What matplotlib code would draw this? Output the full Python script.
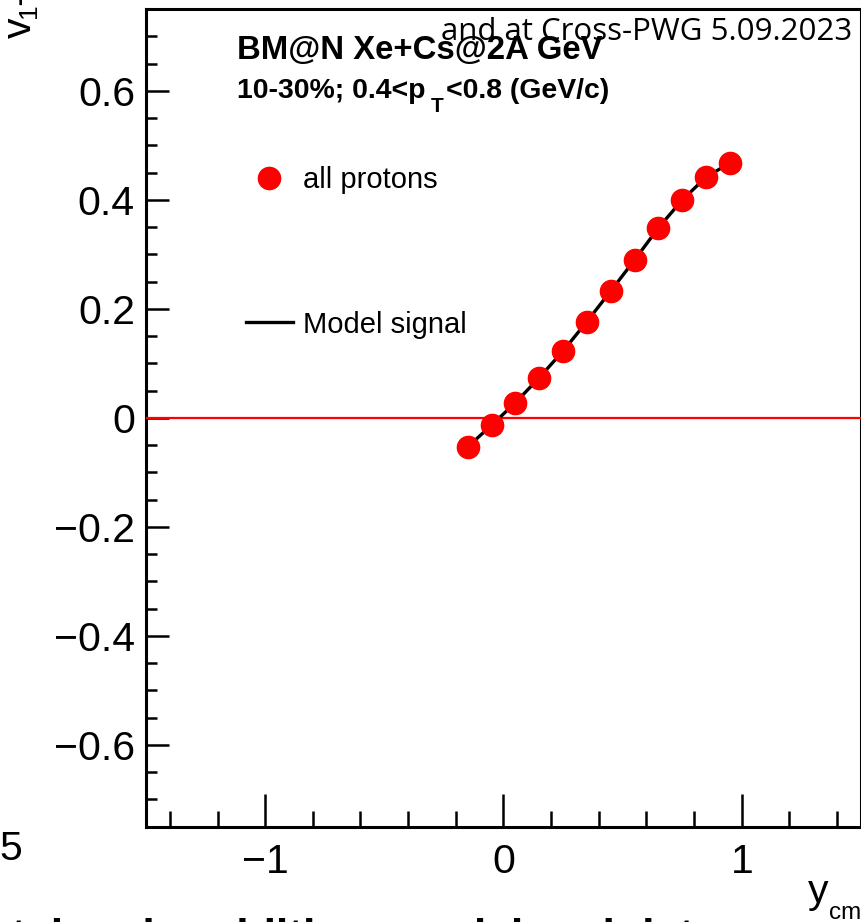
import matplotlib
matplotlib.use("Agg")
import matplotlib.pyplot as plt

plt.rcParams['font.family'] = ['Liberation Sans', 'DejaVu Sans']

# Proton directed flow vs rapidity
y_cm = [-0.15, -0.05, 0.05, 0.15, 0.25, 0.35, 0.45, 0.55, 0.65, 0.75, 0.85, 0.95]
v1_protons = [-0.053, -0.013, 0.028, 0.074, 0.123, 0.177, 0.233, 0.290, 0.349, 0.400, 0.442, 0.468]

# Model input signal
y_model = [-0.15, -0.05, 0.05, 0.15, 0.25, 0.35, 0.45, 0.55, 0.65, 0.75, 0.85, 0.95]
v1_model = [-0.053, -0.013, 0.028, 0.074, 0.123, 0.177, 0.233, 0.290, 0.349, 0.400, 0.442, 0.468]

x_ticks = [-1, 0, 1]
x_ticklabels = ["\u22121", "0", "1"]
y_ticks = [-0.6, -0.4, -0.2, 0, 0.2, 0.4, 0.6]
y_ticklabels = ["\u22120.6", "\u22120.4", "\u22120.2", "0", "0.2", "0.4", "0.6"]

W, H = 862, 922
fig = plt.figure(figsize=(W / 100, H / 100), dpi=100)


def px(x, y):
    return x / W, 1 - y / H


ax = fig.add_axes([146 / W, 1 - 826.75 / H, 715 / W, 817.5 / H])
ax.set_xlim(-1.5, 1.5)
ax.set_ylim(-0.75, 0.75)

ax.axhline(0, color="#ff0000", lw=1.6, zorder=2.6)
line_model, = ax.plot(y_model, v1_model, color="black", lw=2.4, zorder=2.7)
pts, = ax.plot(y_cm, v1_protons, "o", color="#ff0000", ms=16, mec="#ff0000", zorder=3)

ax.set_xticks(x_ticks)
ax.set_xticklabels(x_ticklabels)
ax.set_yticks(y_ticks)
ax.set_yticklabels(y_ticklabels)
ax.set_xticks([-1.4, -1.2, -0.8, -0.6, -0.4, -0.2, 0.2, 0.4, 0.6, 0.8, 1.2, 1.4], minor=True)
ax.set_yticks([v / 100 for v in range(-70, 75, 5) if v % 20 != 0], minor=True)

ax.tick_params(axis="both", which="both", direction="in", width=1.8, labelsize=29.5,
               top=False, right=False)
ax.tick_params(axis="x", which="major", length=24, pad=12)
ax.tick_params(axis="x", which="minor", length=11.5)
ax.tick_params(axis="y", which="major", length=16.5, pad=8)
ax.tick_params(axis="y", which="minor", length=8)
for s in ax.spines.values():
    s.set_linewidth(2.2)

leg = fig.legend([pts, line_model], ["all protons", "Model signal"],
                 loc="upper left", bbox_to_anchor=px(246, 166), frameon=False,
                 fontsize=21, handlelength=1.6, handletextpad=0.35,
                 labelspacing=4.0, borderpad=0, borderaxespad=0)

fig.text(*px(237, 59), "BM@N Xe+Cs@2A GeV", fontsize=23.7, fontweight="bold",
         ha="left", va="baseline")
fig.text(*px(237, 98), "10-30%; 0.4<p", fontsize=20.4, fontweight="bold",
         ha="left", va="baseline")
fig.text(*px(431, 112), "T", fontsize=15, fontweight="bold", ha="left", va="baseline")
fig.text(*px(446, 98), "<0.8 (GeV/c)", fontsize=20.4, fontweight="bold",
         ha="left", va="baseline")

fig.text(*px(852, 40), "and at Cross-PWG 5.09.2023", family=["Open Sans", "DejaVu Sans"],
         fontsize=22.5, ha="right", va="baseline")

# axis titles
fig.text(*px(808, 903), "y", fontsize=29.5, ha="left", va="baseline")
fig.text(*px(829, 919), "cm", fontsize=17.5, ha="left", va="baseline")
fig.text(*px(20, 38), "v", fontsize=29.5, rotation=90, ha="center", va="bottom")
fig.text(*px(29, 18), "1", fontsize=19, rotation=90, ha="center", va="bottom")
fig.text(*px(19, 5), "-flow", fontsize=29.5, rotation=90, ha="center", va="bottom")

# neighbouring panel remnants
fig.text(*px(-1, 860), "5", fontsize=29.5, ha="left", va="baseline")
fig.text(*px(-40, 950), "Total and rapidities: model and data", fontsize=32,
         fontweight="bold", ha="left", va="baseline")

fig.savefig("out.png", dpi=100)
